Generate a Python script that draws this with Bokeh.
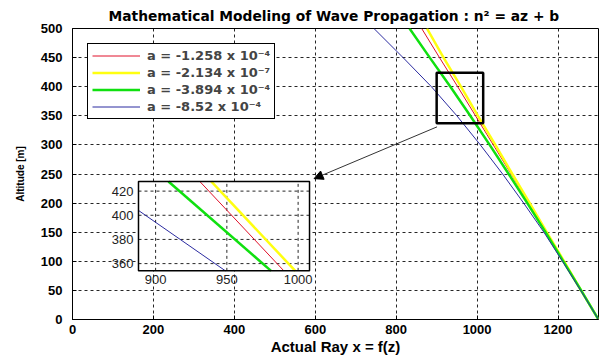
from bokeh.plotting import figure
from bokeh.models import Range1d, FixedTicker, Arrow, NormalHead, BoxAnnotation
from bokeh.core.properties import value
from bokeh.embed import file_html
from bokeh.resources import INLINE

# ---- data ----
z_vals = [0, 50, 100, 150, 200, 250, 300, 350, 400, 450, 500]
x_red = [1300, 1257, 1214, 1171, 1128, 1084, 1040, 996, 952, 907, 863]
x_yellow = [1300, 1257, 1215, 1172, 1130, 1087, 1045, 1002, 960, 917, 876]
x_green = [1300, 1257, 1213, 1169, 1124, 1078, 1031, 983, 934, 883, 833]
x_blue = [1300, 1256, 1211, 1165, 1115, 1063, 1008, 950, 887, 817, 745]

labels = ["a = -1.258 x 10\u207b\u2074", "a = -2.134 x 10\u207b\u2077",
          "a = -3.894 x 10\u207b\u2074", "a = -8.52 x 10\u207b\u2074"]

# inset (zoom) readings
inset_red_x, inset_red_z = [931, 990], [428, 354]
inset_yellow_x, inset_yellow_z = [939, 998], [428, 354]
inset_green_x, inset_green_z = [909, 981], [428, 354]
inset_blue_x, inset_blue_z = [888, 949], [404, 354]

x_ticks = [0, 200, 400, 600, 800, 1000, 1200]
y_ticks = [0, 50, 100, 150, 200, 250, 300, 350, 400, 450, 500]
inset_x_ticks = [900, 950, 1000]
inset_y_ticks = [360, 380, 400, 420]

colors = ["#e0102a", "#ffff10", "#10e010", "#2b2ba0"]
widths = [1, 2.5, 2.5, 1]

FONT = "Liberation Sans"
WIDE = "DejaVu Sans"

p = figure(width=605, height=357, x_range=Range1d(0, 1300), y_range=Range1d(0, 500),
           output_backend="svg", toolbar_location=None,
           min_border_left=72, min_border_right=7, min_border_top=28, min_border_bottom=36,
           title="Mathematical Modeling of Wave Propagation : n\u00b2 = az + b")
p.title.align = "left"
p.title.offset = 36
p.title.text_font = WIDE
p.title.text_font_size = "13.8px"
p.title.text_font_style = "bold"
p.title.text_color = "black"
p.title.standoff = 10

p.outline_line_color = "black"
p.outline_line_width = 1
p.outline_line_alpha = 1
p.background_fill_color = "white"
p.border_fill_color = "white"

p.xaxis.ticker = FixedTicker(ticks=x_ticks)
p.yaxis.ticker = FixedTicker(ticks=y_ticks)
p.xaxis.axis_label = "Actual Ray x = f(z)"
p.yaxis.axis_label = "Altitude [m]"
for ax in (p.xaxis, p.yaxis):
    ax.axis_line_color = "black"
    ax.major_tick_line_color = "black"
    ax.major_tick_in = 4
    ax.major_tick_out = 0
    ax.minor_tick_line_color = None
    ax.major_label_text_font = FONT
    ax.major_label_text_font_style = "bold"
    ax.major_label_text_font_size = "13px"
    ax.major_label_text_color = "black"
    ax.axis_label_text_font = FONT
    ax.axis_label_text_font_style = "bold"
    ax.axis_label_text_color = "black"
p.xaxis.axis_label_text_font_size = "15px"
p.yaxis.axis_label_text_font_size = "10px"
p.xaxis.major_label_standoff = 5
p.xaxis.axis_label_standoff = 1
p.yaxis.major_label_standoff = 10
p.yaxis.axis_label_standoff = 12

for g in (p.xgrid, p.ygrid):
    g.grid_line_color = "black"
    g.grid_line_dash = "3 3"
    g.grid_line_width = 1
    g.grid_line_alpha = 0.85
p.xgrid.ticker = FixedTicker(ticks=x_ticks)
p.ygrid.ticker = FixedTicker(ticks=y_ticks)

series = [x_red, x_yellow, x_green, x_blue]
for xs, c, w, lab in zip(series, colors, widths, labels):
    p.line(xs, z_vals, line_color=c, line_width=w, legend_label=lab)

lg = p.legend[0]
lg.location = (15, 200)
lg.border_line_color = "black"
lg.border_line_width = 1
lg.border_line_alpha = 1
lg.background_fill_color = "white"
lg.background_fill_alpha = 1
lg.label_text_font = WIDE
lg.label_text_font_style = "bold"
lg.label_text_font_size = "13px"
lg.glyph_width = 48
lg.glyph_height = 15
lg.label_height = 15
lg.spacing = 2
lg.padding = 4
lg.margin = 0
lg.label_standoff = 7

# zoom rectangle and arrow
p.add_layout(BoxAnnotation(left=900, right=1015, bottom=337, top=424,
                           fill_color=None, fill_alpha=0, line_color="black",
                           line_alpha=1, line_width=2.5))
p.add_layout(Arrow(x_start=901, y_start=331, x_end=597, y_end=242,
                   line_color="#333333", line_width=1,
                   end=NormalHead(size=9, fill_color="black", line_color="black")))

# inset
ix0, ix1, iz0, iz1 = 888, 1008, 354, 428
sub = p.subplot(x_source=Range1d(ix0, ix1), y_source=Range1d(iz0, iz1),
                x_target=Range1d(163.1, 585.8), y_target=Range1d(83.6, 237.2))
sub.quad(left=[ix0], right=[ix1], bottom=[iz0], top=[iz1],
         fill_color="white", line_color=None)
sub.segment(x0=inset_x_ticks, y0=[iz0] * 3, x1=inset_x_ticks, y1=[iz1] * 3,
            line_color="black", line_dash="3 3", line_width=1, line_alpha=0.85)
sub.segment(x0=[ix0] * 4, y0=inset_y_ticks, x1=[ix1] * 4, y1=inset_y_ticks,
            line_color="black", line_dash="3 3", line_width=1, line_alpha=0.85)
inset_series = [(inset_red_x, inset_red_z), (inset_yellow_x, inset_yellow_z),
                (inset_green_x, inset_green_z), (inset_blue_x, inset_blue_z)]
for (xs, zs), c, w in zip(inset_series, colors, widths):
    sub.line(xs, zs, line_color=c, line_width=w)
sub.quad(left=[ix0], right=[ix1], bottom=[iz0], top=[iz1],
         fill_color=None, line_color="black", line_width=1.5)
sub.text(x=inset_x_ticks, y=[iz0] * 3, text=[str(t) for t in inset_x_ticks],
         text_align="center", text_baseline="top", y_offset=4,
         text_font=value(FONT), text_font_size="13px", text_color="#222222")
sub.text(x=[ix0] * 4, y=inset_y_ticks, text=[str(t) for t in inset_y_ticks],
         text_align="right", text_baseline="middle", x_offset=-5,
         text_font=value(FONT), text_font_size="13px", text_color="#222222")

open("out.html", "w").write(file_html(p, INLINE))
